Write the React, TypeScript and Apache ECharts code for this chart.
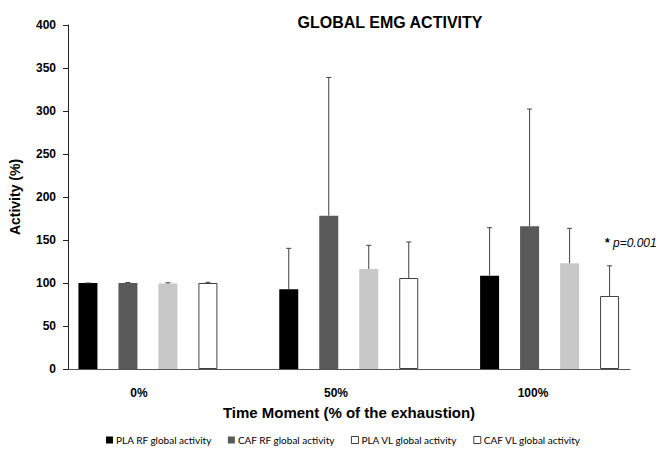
import React, { useEffect, useRef } from "react";
import * as echarts from "echarts";

const categories = ["0%", "50%", "100%"];
const seriesNames = [
  "PLA RF global activity",
  "CAF RF global activity",
  "PLA VL global activity",
  "CAF VL global activity",
];
const plaRF = [100, 92.7, 108.5];
const plaRFErr = [0, 47.6, 55.8];
const cafRF = [100, 178.3, 165.9];
const cafRFErr = [0.6, 160.7, 136.4];
const plaVL = [99.5, 116.3, 122.9];
const plaVLErr = [0.8, 27.5, 40.7];
const cafVL = [100, 105.8, 84.9];
const cafVLErr = [0.8, 41.9, 35.1];
const yTicks = { min: 0, max: 400, interval: 50 };
const annotation = "p=0.001";

const values = [plaRF, cafRF, plaVL, cafVL];
const errors = [plaRFErr, cafRFErr, plaVLErr, cafVLErr];

export default function App() {
  const ref = useRef<HTMLDivElement>(null);
  useEffect(() => {
    if (!ref.current) return;
    const chart = echarts.init(ref.current, null, { renderer: "svg" });
    const fills = ["#000000", "#595959", "#c8c8c8", "#ffffff"];
    const borders = ["#000000", "#595959", "#c8c8c8", "#404040"];
    const barW = 19;
    const step = 40;
    const axisFont = "'Liberation Sans', Arial, sans-serif";

    const barSeries = values.map((v, i) => ({
      name: seriesNames[i],
      type: "bar",
      xAxisIndex: 0,
      yAxisIndex: 0,
      barWidth: barW,
      barGap: "110.5%",
      data: v,
      itemStyle: {
        color: fills[i],
        borderColor: borders[i],
        borderWidth: i === 3 ? 1 : 0,
      },
      silent: true,
    }));

    const errSeries = values.map((v, i) => ({
      type: "custom",
      xAxisIndex: 0,
      yAxisIndex: 0,
      z: 5,
      silent: true,
      data: v.map((val, k) => [k, val, val + errors[i][k]]),
      renderItem: (params: any, api: any) => {
        const k = api.value(0);
        const p0 = api.coord([k, api.value(1)]);
        const p1 = api.coord([k, api.value(2)]);
        const x = p0[0] + (i - 1.5) * step;
        const style = { stroke: "#404040", lineWidth: 1 };
        return {
          type: "group",
          children: [
            { type: "line", shape: { x1: x, y1: p0[1], x2: x, y2: p1[1] }, style },
            { type: "line", shape: { x1: x - 2.5, y1: p1[1], x2: x + 2.5, y2: p1[1] }, style },
          ],
        };
      },
    }));

    chart.setOption({
      animation: false,
      backgroundColor: "#ffffff",
      title: {
        text: "GLOBAL EMG ACTIVITY",
        left: 385,
        top: 9,
        textAlign: "center",
        textStyle: { fontFamily: axisFont, fontWeight: "bold", fontSize: 16, color: "#000" },
      },
      legend: {
        left: 101,
        top: 430,
        itemWidth: 7,
        itemHeight: 7,
        itemGap: 16,
        icon: "rect",
        selectedMode: false,
        textStyle: { fontFamily: "Lato, 'Open Sans', sans-serif", fontSize: 10, color: "#000", padding: [0, 0, 0, -2] },
        data: seriesNames.map((n, i) => ({
          name: n,
          itemStyle:
            i >= 2
              ? { color: "#ffffff", borderColor: "#404040", borderWidth: 1 }
              : { color: fills[i] },
        })),
      },
      grid: [
        { left: 47.5, right: 10, top: 25, bottom: 81 },
        { left: 67, right: 30, top: 25, bottom: 81 },
        { left: 40.5, right: 28.5, top: 25, bottom: 81 },
      ],
      xAxis: [
        { type: "category", gridIndex: 0, data: categories, show: false },
        {
          type: "category",
          gridIndex: 1,
          data: categories,
          axisLine: { show: true, lineStyle: { color: "#555555", width: 1 } },
          axisTick: { show: false },
          axisLabel: { show: false },
          name: "Time Moment (% of the exhaustion)",
          nameLocation: "middle",
          nameGap: 36,
          nameTextStyle: { fontFamily: axisFont, fontWeight: "bold", fontSize: 15, color: "#000" },
        },
        {
          type: "category",
          gridIndex: 2,
          data: categories,
          axisLine: { show: false },
          axisTick: { show: false },
          axisLabel: { margin: 18, fontFamily: axisFont, fontWeight: "bold", fontSize: 12, color: "#000" },
        },
      ],
      yAxis: [
        { type: "value", gridIndex: 0, ...yTicks, show: false, splitLine: { show: false } },
        {
          type: "value",
          gridIndex: 1,
          ...yTicks,
          splitLine: { show: false },
          axisLine: { show: true, lineStyle: { color: "#222222", width: 1 } },
          axisTick: { show: true, length: 5, lineStyle: { color: "#222222" } },
          axisLabel: { margin: 12, fontFamily: axisFont, fontWeight: "bold", fontSize: 12, color: "#000" },
          name: "Activity (%)",
          nameLocation: "middle",
          nameGap: 46,
          nameTextStyle: { fontFamily: axisFont, fontWeight: "bold", fontSize: 14, color: "#000" },
        },
        { type: "value", gridIndex: 2, ...yTicks, show: false, splitLine: { show: false } },
      ],
      series: [...barSeries, ...errSeries],
      graphic: [
        {
          type: "text",
          left: 605,
          top: 237,
          style: {
            text: "{s|*} {p|" + annotation + "}",
            rich: {
              s: { fontFamily: axisFont, fontWeight: "bold", fontSize: 12, fill: "#000" },
              p: { fontFamily: axisFont, fontStyle: "italic", fontSize: 12, fill: "#000" },
            },
          },
        },
      ],
    });
    return () => chart.dispose();
  }, []);
  return (
    <div
      ref={ref}
      style={{ position: "fixed", left: 0, top: 0, width: 660, height: 450 }}
    />
  );
}
